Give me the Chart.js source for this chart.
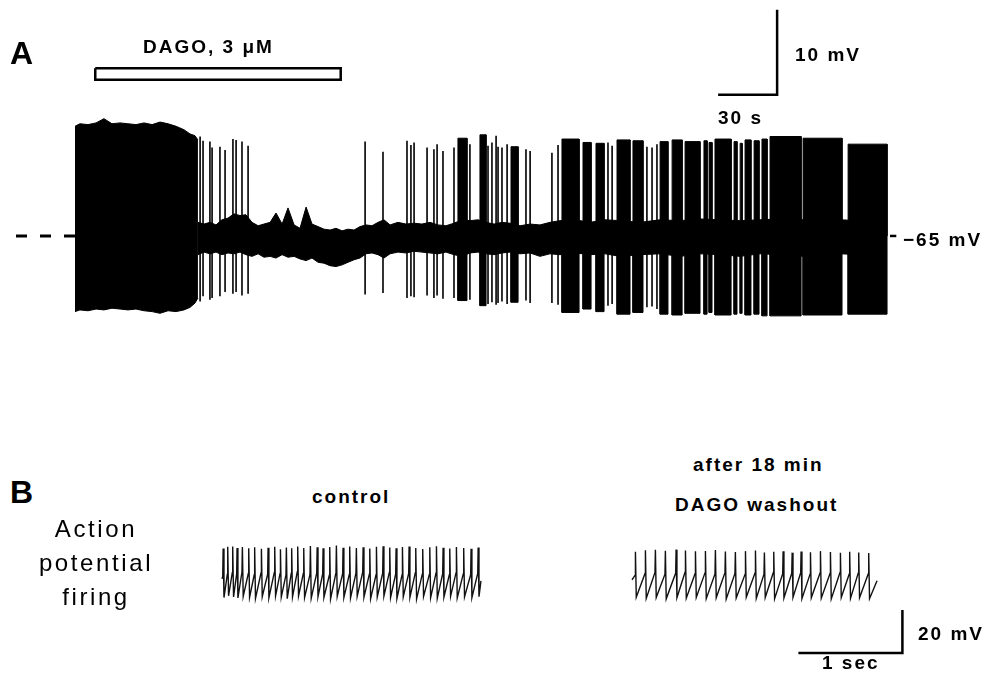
<!DOCTYPE html>
<html>
<head>
<meta charset="utf-8">
<script src="https://cdn.jsdelivr.net/npm/chart.js@4.4.1/dist/chart.umd.min.js"></script>
<style>
  html, body { margin: 0; padding: 0; background: #fff; }
  #page { position: relative; width: 992px; height: 677px; overflow: hidden;
          font-family: "Liberation Sans", Arial, sans-serif; color: #000; }
  .box { position: absolute; left: 0; width: 992px; }
  .lbl { position: absolute; white-space: nowrap; font-weight: bold;
         font-size: 19px; line-height: 19px; letter-spacing: 2px; }
  .big { position: absolute; font-weight: bold; font-size: 32px; line-height: 32px; }
  .side { position: absolute; left: -4px; width: 200px; text-align: center;
          font-size: 24px; line-height: 34px; letter-spacing: 2.6px; }
</style>
</head>
<body>
<div id="page">
  <div class="box" style="top:0;height:340px"><canvas id="chartA" width="992" height="340"></canvas></div>
  <div class="box" style="top:520px;height:157px"><canvas id="chartB" width="992" height="157"></canvas></div>

  <div class="big" style="left:10px;top:37px">A</div>
  <div class="lbl" style="left:143px;top:37px">DAGO, 3 μM</div>
  <div class="lbl" style="left:795px;top:45px">10 mV</div>
  <div class="lbl" style="left:718px;top:108px">30 s</div>
  <div class="lbl" style="left:903px;top:230px">−65 mV</div>

  <div class="big" style="left:10px;top:476px">B</div>
  <div class="side" style="top:512px">Action<br>potential<br>firing</div>
  <div class="lbl" style="left:312px;top:487px">control</div>
  <div class="lbl" style="left:693px;top:455px">after 18 min</div>
  <div class="lbl" style="left:675px;top:495px">DAGO washout</div>
  <div class="lbl" style="left:918px;top:624px">20 mV</div>
  <div class="lbl" style="left:822px;top:653px">1 sec</div>
</div>

<script>
const restingMv = -65;

// ---- panel A: long record (time in s from start of trace, potential in mV)
const dagoOn = 10.3, dagoOff = 135.1;

// control firing before DAGO, too dense to resolve single spikes
const blockTime = [0, 2.5, 6.6, 10.7, 14.7, 18.8, 22.9, 26.9, 31.0, 35.1, 39.2, 43.2, 47.3, 51.4, 55.4, 58.5, 61.0, 62.5];
const blockTop = [-52.1, -51.8, -51.9, -51.7, -51.2, -51.8, -51.7, -51.8, -51.9, -51.7, -51.9, -51.6, -51.8, -52.1, -52.5, -53.0, -53.2, -53.7];
const blockBottom = [-73.9, -73.7, -73.8, -73.6, -73.7, -73.5, -73.6, -73.7, -73.6, -73.8, -73.9, -74.1, -73.8, -73.9, -73.7, -73.4, -72.9, -72.3];

// membrane noise band around rest
const envTime = [62.5, 65.6, 68.6, 71.7, 74.7, 77.8, 80.8, 83.9, 86.9, 90.0,
  93.1, 96.1, 99.2, 102.2, 105.3, 108.3, 111.4, 114.4, 117.5, 120.5,
  123.6, 126.6, 129.7, 132.7, 135.8, 138.8, 141.9, 144.9, 148.0, 151.0,
  154.1, 157.1, 160.2, 164.2, 168.3, 172.4, 176.4, 180.5, 184.6, 188.6,
  192.7, 196.8, 200.8, 204.9, 209.0, 213.1, 217.1, 221.2, 226.3, 231.4,
  236.4, 241.5, 246.6, 254.2, 261.9, 269.5, 277.1, 287.3, 297.5, 307.6,
  317.8, 328.0, 338.1, 348.3, 358.5, 368.6, 378.8, 389.0, 399.1, 412.9];
const envTop = [-63.4, -63.6, -63.4, -63.7, -63.1, -62.9, -62.4, -62.6, -62.5, -63.4,
  -63.8, -63.6, -63.4, -62.3, -63.6, -61.7, -63.7, -64.1, -61.6, -63.6,
  -63.9, -64.2, -64.3, -64.1, -64.4, -64.2, -64.3, -63.9, -63.7, -63.8,
  -63.4, -63.1, -63.7, -63.4, -63.6, -63.5, -63.6, -63.4, -63.7, -63.8,
  -63.5, -63.1, -63.2, -63.1, -63.4, -63.6, -63.4, -63.5, -63.8, -63.6,
  -63.7, -63.4, -63.2, -63.1, -63.4, -63.1, -63.2, -63.4, -63.1, -63.2,
  -63.0, -63.1, -63.2, -63.1, -63.0, -63.1, -63.0, -63.1, -63.2, -63.4];
const envBottom = [-67.2, -66.9, -67.1, -66.9, -67.2, -67.0, -67.1, -66.9, -67.2, -67.4,
  -67.1, -67.5, -67.4, -67.6, -67.2, -67.5, -67.4, -67.7, -67.9, -67.6,
  -68.1, -68.2, -68.5, -68.6, -68.4, -68.1, -67.8, -67.6, -67.1, -67.0,
  -67.2, -67.6, -67.1, -66.9, -67.0, -66.8, -66.9, -67.0, -67.1, -66.9,
  -67.2, -67.4, -67.0, -66.9, -67.1, -67.2, -67.0, -66.9, -67.1, -67.0,
  -67.4, -67.1, -67.2, -67.0, -67.2, -67.1, -67.4, -67.2, -67.1, -67.4,
  -67.1, -67.2, -67.4, -67.1, -67.2, -67.4, -67.2, -67.1, -67.2, -67.1];

// single action potentials
const spikeTime = [63.6, 65.1, 68.6, 69.7, 73.7, 76.3, 80.3, 81.9, 84.9, 88.0,
  147.5, 156.6, 168.8, 170.8, 172.4, 179.0, 182.5, 184.1, 187.1, 192.7,
  200.8, 210.0, 212.0, 214.1, 215.1, 217.1, 219.7, 229.3, 231.4, 242.5,
  245.6, 271.0, 273.1, 290.8, 293.4, 295.9];
const spikeTop = [-53.3, -53.8, -53.9, -54.6, -54.5, -54.9, -53.6, -53.7, -53.9, -54.4,
  -53.9, -55.1, -53.8, -54.3, -54.0, -54.6, -54.8, -54.2, -55.0, -54.6,
  -54.2, -54.4, -54.0, -53.2, -54.5, -54.6, -54.2, -54.8, -55.0, -55.2,
  -54.3, -54.0, -54.4, -54.5, -54.6, -54.2];
const spikeBottom = [-72.7, -72.1, -72.5, -72.3, -72.1, -71.6, -71.8, -71.6, -72.0, -71.8,
  -71.9, -71.7, -72.3, -72.1, -72.2, -72.0, -72.3, -72.0, -72.4, -72.3,
  -72.5, -73.0, -72.8, -73.1, -72.9, -72.7, -73.0, -72.6, -72.9, -72.9,
  -73.1, -73.2, -73.0, -73.4, -73.3, -73.6];

// bursts of firing during recovery
const burstStart = [194.7, 205.9, 221.7, 247.6, 258.3, 264.9, 275.6, 283.7, 297.5, 303.6, 310.2,
  319.8, 322.4, 325.4, 335.1, 338.2, 340.7, 345.3, 349.3, 353.4, 370.2, 393.1];
const burstEnd = [199.3, 209.0, 225.3, 256.3, 262.4, 269.0, 282.2, 288.8, 301.5, 308.7, 317.8,
  321.4, 323.9, 333.6, 336.6, 339.2, 343.7, 347.8, 351.9, 369.2, 390.0, 412.9];
const burstTop = [-53.5, -53.1, -54.5, -53.6, -54.0, -54.1, -53.7, -53.8, -53.9, -53.7, -53.9,
  -53.8, -54.0, -53.6, -53.9, -54.1, -53.7, -53.8, -53.6, -53.3, -53.5, -54.2];
const burstBottom = [-72.6, -73.2, -72.8, -74.0, -73.6, -73.9, -74.2, -74.0, -74.2, -74.3, -74.1,
  -74.2, -74.0, -74.3, -74.2, -74.1, -74.3, -74.2, -74.4, -74.4, -74.3, -74.2];

// scale bars A
const barA_s = 30, barA_mV = 10;

// ---- panel B: fast sweeps (time in s, potential in mV)
const ctrlSpikeTime = [0.007, 0.051, 0.099, 0.141, 0.192, 0.253, 0.310, 0.375, 0.439, 0.503,
  0.558, 0.615, 0.666, 0.724, 0.782, 0.846, 0.911, 0.968, 1.032, 1.096,
  1.160, 1.224, 1.288, 1.353, 1.417, 1.481, 1.545, 1.609, 1.670, 1.731,
  1.795, 1.859, 1.926, 1.994, 2.058, 2.122, 2.186, 2.250, 2.320, 2.391, 2.459];
const ctrlPeak = [-37.0, -36.2, -36.0, -36.8, -36.3, -36.9, -36.4, -37.1, -36.6, -36.2,
  -37.3, -36.5, -36.9, -36.1, -36.7, -35.8, -36.4, -36.9, -36.3, -35.6,
  -36.6, -36.0, -36.8, -36.4, -37.0, -36.2, -35.9, -36.5, -36.9, -36.3,
  -36.0, -36.7, -37.2, -36.4, -35.9, -36.6, -37.0, -36.3, -36.8, -37.1, -36.5];
const ctrlTrough = [-59.8, -59.0, -59.5, -60.0, -59.2, -59.7, -60.2, -59.4, -59.9, -59.1,
  -59.6, -60.3, -59.5, -59.0, -59.8, -60.1, -59.4, -59.7, -60.4, -59.3,
  -59.8, -60.0, -59.2, -59.6, -60.3, -59.5, -59.1, -59.8, -60.2, -59.4,
  -59.7, -60.5, -59.3, -59.9, -60.1, -59.6, -59.2, -60.0, -59.5, -59.8, -59.4];
const ctrlThreshold = [-50.0, -49.0, -48.2, -48.8, -47.9, -48.6, -49.2, -48.4, -48.9, -48.1,
  -48.7, -49.3, -48.5, -47.8, -48.6, -49.0, -48.3, -48.8, -49.4, -48.2,
  -48.7, -49.1, -48.4, -48.0, -48.9, -49.2, -48.5, -48.1, -48.8, -49.3,
  -48.6, -48.2, -48.9, -49.0, -48.4, -48.7, -49.2, -48.3, -48.8, -49.1, -48.6];
const ctrlStart = [0, -51.0], ctrlEnd = [2.49, -52.0];

const washSpikeTime = [0.029, 0.125, 0.221, 0.317, 0.420, 0.510, 0.606, 0.702, 0.798, 0.894,
  0.990, 1.087, 1.183, 1.269, 1.359, 1.449, 1.536, 1.622, 1.712, 1.808,
  1.904, 2.000, 2.089, 2.176, 2.272];
const washPeak = [-38.5, -37.8, -37.6, -38.0, -37.5, -37.9, -38.3, -38.1, -37.7, -38.4,
  -38.6, -38.2, -37.9, -38.8, -38.5, -38.3, -38.9, -38.4, -38.7, -38.2,
  -38.6, -39.0, -38.5, -38.8, -39.1];
const washTrough = [-59.6, -60.2, -59.8, -60.4, -59.9, -60.1, -59.7, -60.3, -59.9, -60.5,
  -60.0, -59.6, -60.2, -59.8, -60.4, -60.0, -59.7, -60.3, -59.9, -60.1,
  -60.4, -59.8, -60.2, -59.9, -60.3];
const washThreshold = [-49.5, -48.6, -48.1, -48.9, -48.4, -48.0, -48.7, -48.3, -48.8, -48.2,
  -48.6, -49.0, -48.4, -48.9, -48.1, -48.7, -48.5, -48.2, -48.9, -48.4,
  -48.6, -48.1, -48.8, -48.3, -48.7];
const washStart = [0, -51.5], washEnd = [2.356, -52.0];

const barB_s = 1, barB_mV = 20;

// ---------------------------------------------------------------
const ink = '#000';

function line(data, extra) {
  return Object.assign({
    data: data, borderColor: ink, backgroundColor: ink, borderWidth: 1,
    pointRadius: 0, tension: 0, fill: false
  }, extra || {});
}

function curve(xs, ys) {
  return xs.map((x, i) => ({ x: x, y: ys[i] }));
}

// rectangles for bursts, one above and one below rest
function burstPts(side) {
  const pts = [];
  burstStart.forEach((s, i) => {
    const e = burstEnd[i], v = side[i];
    pts.push({ x: s, y: restingMv }, { x: s, y: v }, { x: e, y: v }, { x: e, y: restingMv }, { x: e, y: null });
  });
  return pts;
}

const spikePts = [];
spikeTime.forEach((t, i) => {
  spikePts.push({ x: t, y: spikeTop[i] }, { x: t, y: spikeBottom[i] }, { x: t, y: null });
});

// fast sweep: ramp to threshold, spike up to peak, fall to trough
function sweep(times, peaks, troughs, thr, start, end) {
  const pts = [{ x: start[0], y: start[1] }];
  times.forEach((t, i) => {
    pts.push({ x: t, y: thr[i] }, { x: t + 0.004, y: peaks[i] }, { x: t + 0.012, y: troughs[i] });
  });
  pts.push({ x: end[0], y: end[1] });
  return pts;
}

function baseOptions(scales) {
  return {
    responsive: false, animation: false, devicePixelRatio: 1,
    layout: { padding: 0 },
    plugins: { legend: { display: false }, tooltip: { enabled: false } },
    elements: { point: { radius: 0 } },
    scales: scales
  };
}

// panel A layout: 1 s = 1.9667 px, 1 mV = 8.5 px
const aBarY = -48.4, aBarX = 357, dagoHi = -45.28, dagoLo = -46.62;

new Chart(document.getElementById('chartA'), {
  type: 'line',
  data: {
    datasets: [
      line(curve(blockTime, blockTop), { fill: { value: restingMv } }),
      line(curve(blockTime, blockBottom), { fill: { value: restingMv } }),
      line(curve(envTime, envTop), { fill: { value: restingMv } }),
      line(curve(envTime, envBottom), { fill: { value: restingMv } }),
      line(burstPts(burstTop), { fill: { value: restingMv } }),
      line(burstPts(burstBottom), { fill: { value: restingMv } }),
      line(spikePts, { borderWidth: 1.6 }),
      // dashed rest line and right hand tick
      line([{ x: -30, y: restingMv }, { x: 0, y: restingMv }], { borderWidth: 3, borderDash: [11, 13] }),
      line([{ x: 414.4, y: restingMv }, { x: 417.6, y: restingMv }], { borderWidth: 2.5 }),
      // DAGO application bar
      line([{ x: dagoOn, y: dagoHi }, { x: dagoOff, y: dagoHi }, { x: dagoOff, y: dagoLo },
            { x: dagoOn, y: dagoLo }, { x: dagoOn, y: dagoHi }], { borderWidth: 2.5, borderJoinStyle: 'miter' }),
      // scale bar 30 s / 10 mV
      line([{ x: aBarX - barA_s, y: aBarY }, { x: aBarX, y: aBarY }, { x: aBarX, y: aBarY + barA_mV }],
           { borderWidth: 2.5, borderJoinStyle: 'miter' })
    ]
  },
  options: baseOptions({
    x: { type: 'linear', display: false, min: -38.14, max: 466.26 },
    y: { type: 'linear', display: false, min: -77.24, max: -37.24 }
  })
});

// panel B layout: 1 s = 104 px, 1 mV = 2.15 px
const bBarX = 2.6, bBarY = -85.6;

new Chart(document.getElementById('chartB'), {
  type: 'line',
  data: {
    datasets: [
      line(sweep(ctrlSpikeTime, ctrlPeak, ctrlTrough, ctrlThreshold, ctrlStart, ctrlEnd),
           { xAxisID: 'xc', borderWidth: 1.4, borderColor: '#111' }),
      line(sweep(washSpikeTime, washPeak, washTrough, washThreshold, washStart, washEnd),
           { xAxisID: 'xw', borderWidth: 1.4, borderColor: '#111' }),
      line([{ x: bBarX - barB_s, y: bBarY }, { x: bBarX, y: bBarY }, { x: bBarX, y: bBarY + barB_mV }],
           { xAxisID: 'xw', borderWidth: 2.5, borderJoinStyle: 'miter' })
    ]
  },
  options: baseOptions({
    xc: { type: 'linear', axis: 'x', display: false, min: -2.1346, max: 7.4038 },
    xw: { type: 'linear', axis: 'x', display: false, min: -6.0769, max: 3.4615 },
    y: { type: 'linear', display: false, min: -96.74, max: -23.72 }
  })
});
</script>
</body>
</html>
